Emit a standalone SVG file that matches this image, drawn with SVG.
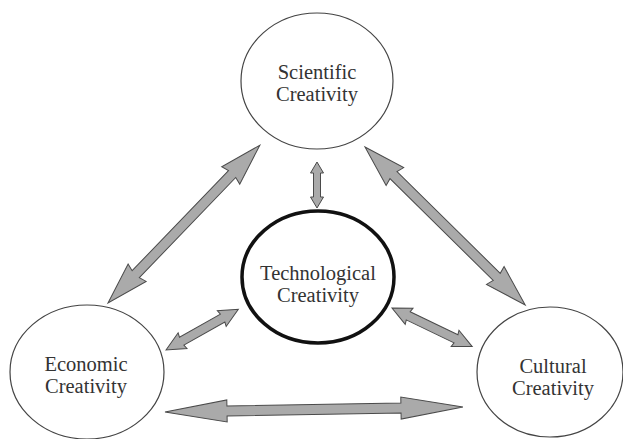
<svg xmlns="http://www.w3.org/2000/svg" width="623" height="439" viewBox="0 0 623 439">
  <style>
    .node { fill: #ffffff; stroke: #444444; stroke-width: 1.2; }
    .core { fill: #ffffff; stroke: #111111; stroke-width: 3.5; }
    .label { font-family: "Liberation Serif", "Times New Roman", serif; font-size: 20.5px; fill: #333333; text-anchor: middle; }
    .arrow { fill: #aaaaaa; stroke: #4a4a4a; stroke-width: 1; stroke-linejoin: miter; }
  </style>
  <rect width="623" height="439" fill="#ffffff"/>

  <!-- double-headed block arrows, drawn along local x then placed -->
  <g id="connectors">
    <!-- Scientific <-> Economic -->
    <polygon class="arrow" transform="translate(108,303) rotate(-46.1)"
      points="0,0 42,-12.5 40,-5 179,-5 177,-12.5 219,0 177,12.5 179,5 40,5 42,12.5"/>
    <!-- Scientific <-> Cultural -->
    <polygon class="arrow" transform="translate(365,147) rotate(44.6)"
      points="0,0 42,-12.5 40,-5 185,-5 183,-12.5 225,0 183,12.5 185,5 40,5 42,12.5"/>
    <!-- Scientific <-> Technological -->
    <polygon class="arrow" transform="translate(317,162) rotate(90)"
      points="0,0 11,-6.5 11,-3.5 35,-3.5 35,-6.5 46,0 35,6.5 35,3.5 11,3.5 11,6.5"/>
    <!-- Technological <-> Economic -->
    <polygon class="arrow" transform="translate(166,350) rotate(-29.4)"
      points="0,0 19,-9 18,-4.5 65,-4.5 64,-9 83,0 64,9 65,4.5 18,4.5 19,9"/>
    <!-- Technological <-> Cultural -->
    <polygon class="arrow" transform="translate(392,308) rotate(25.7)"
      points="0,0 19,-9 18,-4.5 71,-4.5 70,-9 89,0 70,9 71,4.5 18,4.5 19,9"/>
    <!-- Economic <-> Cultural -->
    <polygon class="arrow" transform="translate(165,412) rotate(-0.96)"
      points="0,0 62,-11 62,-5 236,-5 236,-11 298,0 236,11 236,5 62,5 62,11"/>
  </g>

  <g id="scientific">
    <ellipse class="node" cx="317" cy="81" rx="76" ry="68"/>
    <text class="label" x="317" y="79">Scientific</text>
    <text class="label" x="317" y="101">Creativity</text>
  </g>

  <g id="technological">
    <ellipse class="core" cx="318" cy="277" rx="76" ry="66"/>
    <text class="label" x="318" y="280">Technological</text>
    <text class="label" x="318" y="302">Creativity</text>
  </g>

  <g id="economic">
    <ellipse class="node" cx="87" cy="372" rx="77" ry="67"/>
    <text class="label" x="86" y="371">Economic</text>
    <text class="label" x="86" y="393">Creativity</text>
  </g>

  <g id="cultural">
    <ellipse class="node" cx="550" cy="372" rx="73" ry="65"/>
    <text class="label" x="553" y="373">Cultural</text>
    <text class="label" x="553" y="395">Creativity</text>
  </g>
</svg>
